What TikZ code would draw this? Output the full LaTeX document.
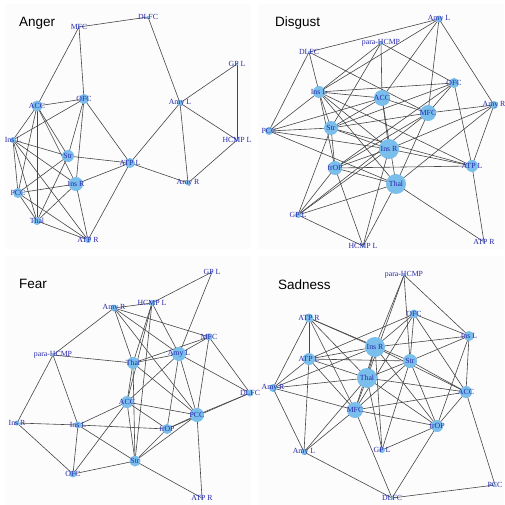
\documentclass[tikz,border=0pt]{standalone}
\usepackage{fontspec}
\setmainfont{Liberation Serif}
\newfontfamily\titlefont{Liberation Sans}
\usetikzlibrary{backgrounds}
\definecolor{nodeblue}{RGB}{122,190,235}
\definecolor{lblblue}{RGB}{40,40,170}
\definecolor{edgegray}{RGB}{70,70,70}
\definecolor{panelbg}{RGB}{252,252,252}
\tikzset{
  vtx/.style={circle,fill=nodeblue,inner sep=0pt},
  lbl/.style={font=\fontsize{7.8}{8}\selectfont,text=lblblue,inner sep=0pt},
  edge/.style={draw=edgegray,line width=0.6pt},
  ttl/.style={font=\titlefont\fontsize{13.5}{15}\selectfont,anchor=west,inner sep=0pt},
  panel/.style={fill=panelbg,draw=none}
}
\newcommand\vtx[5]{\node[vtx,minimum size=#4*2pt] (#1) at (#2,#3) {}; \node[lbl] at (#1) {#5};}
\newcommand\edgeset[1]{\begin{scope}[on background layer]\foreach \a/\b in {#1} \draw[edge] (\a.center) -- (\b.center);\end{scope}}
\begin{document}
\begin{tikzpicture}[x=1pt,y=-1pt]
\begin{scope}[on background layer]
\fill[white] (0,0) rectangle (504,505);
\fill[panel] (6,4) rectangle (251,249);
\fill[panel] (258,4) rectangle (504,249);
\fill[panel] (6,256) rectangle (251,505);
\fill[panel] (258,256) rectangle (504,505);
\end{scope}
\useasboundingbox (0,0) rectangle (504,505);
% ---------- Anger ----------
\node[ttl] (tA) at (19,23) {Anger};
\vtx{aMFC}{79}{27}{1.5}{MFC}
\vtx{aDLFC}{148}{17}{1.5}{DLFC}
\vtx{aGPL}{237}{64}{1.5}{GP L}
\vtx{aAmyL}{180}{103}{3}{Amy L}
\vtx{aOFC}{84}{99}{5}{OFC}
\vtx{aACC}{37}{106}{5.5}{ACC}
\vtx{aInsL}{13}{140}{3}{Ins L}
\vtx{aStr}{68}{156}{6}{Str}
\vtx{aATPL}{130}{163}{5}{ATP L}
\vtx{aHCMPL}{237}{140}{1.5}{HCMP L}
\vtx{aAmyR}{188}{183}{2.5}{Amy R}
\vtx{aInsR}{76}{184}{7}{Ins R}
\vtx{aPCC}{18}{193}{5}{PCC}
\vtx{aThal}{37}{221}{4}{Thal}
\vtx{aATPR}{88}{240}{3}{ATP R}
\edgeset{aMFC/aDLFC, aMFC/aACC, aMFC/aOFC, aDLFC/aAmyL, aGPL/aAmyL, aGPL/aHCMPL, aAmyL/aHCMPL, aAmyL/aATPL, aAmyL/aAmyR, aHCMPL/aAmyR, aATPL/aAmyR, aACC/aOFC, aOFC/aInsL, aOFC/aStr, aOFC/aInsR, aOFC/aATPL, aACC/aInsL, aACC/aStr, aACC/aInsR, aACC/aPCC, aACC/aThal, aInsL/aStr, aInsL/aInsR, aInsL/aPCC, aInsL/aThal, aInsL/aATPR, aStr/aATPL, aStr/aPCC, aStr/aThal, aInsR/aATPL, aInsR/aPCC, aInsR/aThal, aInsR/aATPR, aPCC/aThal, aPCC/aATPR, aThal/aATPR, aATPL/aATPR}
% ---------- Disgust ----------
\node[ttl] (tD) at (275,23) {Disgust};
\vtx{dAmyL}{439}{19}{3.5}{Amy L}
\vtx{dpara}{381}{43}{2}{para-HCMP}
\vtx{dDLFC}{309}{52}{1.5}{DLFC}
\vtx{dInsL}{319}{92}{6}{Ins L}
\vtx{dACC}{382}{98}{8}{ACC}
\vtx{dOFC}{454}{83}{5}{OFC}
\vtx{dAmyR}{494}{105}{4}{Amy R}
\vtx{dMFC}{428}{113}{8}{MFC}
\vtx{dPCC}{269}{131}{4}{PCC}
\vtx{dStr}{331}{128}{7}{Str}
\vtx{dInsR}{389}{149}{10}{Ins R}
\vtx{dfrOP}{335}{168}{7}{frOP}
\vtx{dATPL}{472}{166}{6}{ATP L}
\vtx{dThal}{396}{184}{10}{Thal}
\vtx{dGPL}{298}{215}{3}{GP L}
\vtx{dHCMPL}{363}{246}{1.5}{HCMP L}
\vtx{dATPR}{484}{242}{1.5}{ATP R}
\edgeset{dAmyL/dDLFC, dAmyL/dInsL, dAmyL/dACC, dAmyL/dMFC, dAmyL/dAmyR, dpara/dACC, dpara/dOFC, dpara/dInsL, dpara/dStr, dDLFC/dPCC, dDLFC/dInsL, dDLFC/dMFC, dInsL/dOFC, dInsL/dACC, dInsL/dStr, dInsL/dfrOP, dInsL/dInsR, dInsL/dThal, dInsL/dATPL, dInsL/dPCC, dACC/dInsR, dACC/dThal, dACC/dMFC, dACC/dStr, dACC/dPCC, dOFC/dStr, dOFC/dMFC, dOFC/dATPL, dOFC/dfrOP, dMFC/dAmyR, dMFC/dStr, dMFC/dfrOP, dMFC/dThal, dMFC/dGPL, dAmyR/dATPL, dAmyR/dThal, dAmyR/dInsR, dPCC/dStr, dPCC/dInsR, dPCC/dThal, dStr/dfrOP, dStr/dInsR, dStr/dGPL, dStr/dATPL, dInsR/dfrOP, dInsR/dATPL, dInsR/dHCMPL, dInsR/dGPL, dfrOP/dATPL, dfrOP/dThal, dfrOP/dHCMPL, dfrOP/dGPL, dThal/dGPL, dThal/dATPR, dThal/dHCMPL, dATPL/dATPR, dGPL/dHCMPL}
% ---------- Fear ----------
\node[ttl] (tF) at (19,284) {Fear};
\vtx{fGPL}{212}{272}{1.5}{GP L}
\vtx{fAmyR}{114}{308}{3.5}{Amy R}
\vtx{fHCMPL}{152}{303}{3}{HCMP L}
\vtx{fMFC}{209}{337}{3.5}{MFC}
\vtx{fpara}{53}{355}{1.5}{para-HCMP}
\vtx{fAmyL}{179}{354}{7}{Amy L}
\vtx{fThal}{133}{363}{6}{Thal}
\vtx{fDLFC}{250}{393}{3.5}{DLFC}
\vtx{fACC}{127}{402}{6}{ACC}
\vtx{fPCC}{197}{415}{7}{PCC}
\vtx{fInsR}{17}{423}{2.5}{Ins R}
\vtx{fInsL}{78}{425}{3.5}{Ins L}
\vtx{ffrOP}{167}{429}{5}{frOP}
\vtx{fStr}{135}{461}{5.5}{Str}
\vtx{fOFC}{73}{474}{3.5}{OFC}
\vtx{fATPR}{202}{498}{1.5}{ATP R}
\edgeset{fGPL/fHCMPL, fGPL/fAmyL, fAmyR/fHCMPL, fAmyR/fpara, fAmyR/fThal, fAmyR/fMFC, fAmyR/fAmyL, fAmyR/fPCC, fHCMPL/fThal, fHCMPL/fACC, fHCMPL/fStr, fHCMPL/fAmyL, fMFC/fAmyL, fMFC/fThal, fMFC/fDLFC, fMFC/fPCC, fpara/fThal, fpara/fInsR, fpara/fInsL, fAmyL/fThal, fAmyL/fACC, fAmyL/ffrOP, fAmyL/fPCC, fAmyL/fDLFC, fThal/fPCC, fThal/fStr, fThal/fACC, fACC/fInsL, fACC/fPCC, fACC/ffrOP, fACC/fOFC, fACC/fStr, fDLFC/fPCC, fDLFC/ffrOP, fPCC/ffrOP, fPCC/fStr, fPCC/fATPR, fInsR/fInsL, fInsR/fOFC, fInsL/ffrOP, fInsL/fOFC, fInsL/fStr, ffrOP/fStr, fStr/fOFC, fStr/fATPR}
% ---------- Sadness ----------
\node[ttl] (tS) at (278,285) {Sadness};
\vtx{spara}{404}{275}{1.5}{para-HCMP}
\vtx{sOFC}{414}{314}{4.5}{OFC}
\vtx{sATPR}{309}{318}{4.5}{ATP R}
\vtx{sInsL}{469}{336}{5}{Ins L}
\vtx{sInsR}{375}{347}{10}{Ins R}
\vtx{sATPL}{309}{359}{6}{ATP L}
\vtx{sStr}{410}{361}{7}{Str}
\vtx{sThal}{367}{378}{10}{Thal}
\vtx{sAmyR}{273}{388}{4}{Amy R}
\vtx{sACC}{466}{392}{6}{ACC}
\vtx{sMFC}{355}{410}{8}{MFC}
\vtx{sfrOP}{437}{426}{6}{frOP}
\vtx{sAmyL}{304}{452}{3}{Amy L}
\vtx{sGPL}{382}{450}{3}{GP L}
\vtx{sDLFC}{392}{498}{1.5}{DLFC}
\vtx{sPCC}{495}{485}{1.5}{PCC}
\edgeset{spara/sInsR, spara/sStr, spara/sInsL, spara/sThal, sOFC/sATPL, sOFC/sInsL, sOFC/sStr, sOFC/sMFC, sOFC/sACC, sOFC/sInsR, sATPR/sATPL, sATPR/sInsR, sATPR/sStr, sATPR/sAmyR, sATPR/sThal, sATPR/sMFC, sInsL/sInsR, sInsL/sStr, sInsL/sACC, sInsL/sfrOP, sInsR/sATPL, sInsR/sThal, sInsR/sMFC, sInsR/sGPL, sInsR/sfrOP, sInsR/sACC, sInsR/sAmyR, sATPL/sStr, sATPL/sThal, sATPL/sAmyR, sATPL/sAmyL, sATPL/sMFC, sStr/sThal, sStr/sMFC, sStr/sGPL, sStr/sfrOP, sStr/sACC, sThal/sAmyR, sThal/sACC, sThal/sMFC, sThal/sGPL, sThal/sfrOP, sThal/sAmyL, sAmyR/sMFC, sAmyR/sAmyL, sACC/sMFC, sACC/sfrOP, sACC/sPCC, sMFC/sfrOP, sMFC/sDLFC, sfrOP/sGPL, sfrOP/sDLFC, sAmyL/sDLFC, sAmyL/sMFC, sDLFC/sPCC}
\end{tikzpicture}
\end{document}
